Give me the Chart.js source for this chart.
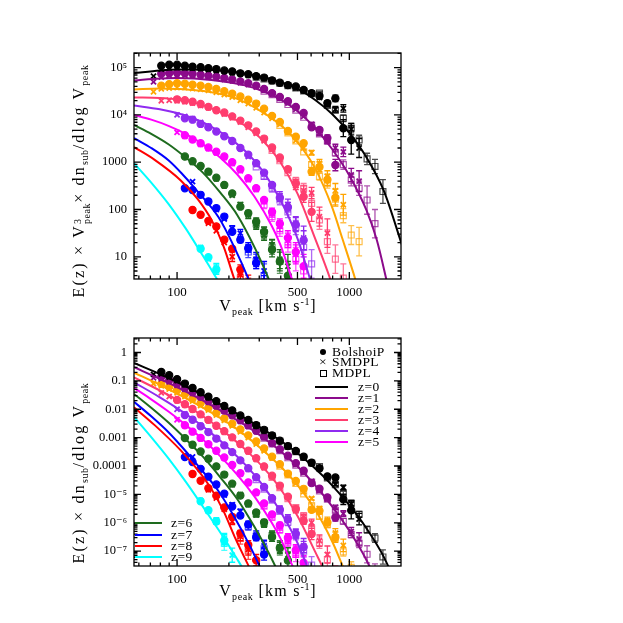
<!DOCTYPE html>
<html>
<head>
<meta charset="utf-8">
<title>Subhalo Vpeak functions</title>
<script src="https://cdn.jsdelivr.net/npm/chart.js@4.4.0/dist/chart.umd.min.js"></script>
<style>
  body { margin: 0; background: #fff; }
  #page { position: relative; width: 623px; height: 623px; overflow: hidden; font-family: "Liberation Serif", "DejaVu Serif", serif; color: #000; }
  canvas { position: absolute; left: 0; }
  .ytitle, .xtitle, .leg { position: absolute; white-space: nowrap; line-height: 1; }
  .ytitle { font-size: 16px; letter-spacing: 2.2px; transform: translate(-50%, -50%) rotate(-90deg); }
  .xtitle { font-size: 16px; letter-spacing: 1.2px; transform: translate(-50%, -50%); }
  .leg { font-size: 13.5px; letter-spacing: 0.4px; transform: translateY(-50%); }
  .sb { font-size: 10px; letter-spacing: 0.6px; vertical-align: -4px; }
  .sp { font-size: 10px; letter-spacing: 0.6px; vertical-align: 6px; }
  .ss { display: inline-block; vertical-align: -6px; font-size: 10px; line-height: 9px; letter-spacing: 0.6px; }
  .sym { position: absolute; }
</style>
</head>
<body>
<div id="page">
  <canvas id="topChart" width="623" height="320" style="top:0"></canvas>
  <canvas id="bottomChart" width="623" height="303" style="top:320px"></canvas>

  <div class="ytitle" style="left:81px;top:181px">E(z) &times; V<span class="ss">3<br>peak</span>&times; dn<span class="sb">sub</span>/dlog V<span class="sb">peak</span></div>
  <div class="xtitle" style="left:268px;top:307px">V<span class="sb">peak</span> [km s<span class="sp">-1</span>]</div>
  <div class="ytitle" style="left:80px;top:473px">E(z) &times; dn<span class="sb">sub</span>/dlog V<span class="sb">peak</span></div>
  <div class="xtitle" style="left:268px;top:592px">V<span class="sb">peak</span> [km s<span class="sp">-1</span>]</div>
  <div id="legend"></div>
</div>

<script>
// Vpeak bins (km/s) shared by the three simulations
const vBins = [73, 81, 90, 100, 111, 123, 137, 152, 169, 188, 209, 233, 259, 288, 320,
  356, 395, 440, 489, 543, 604, 671, 746, 830, 923, 1026, 1140, 1268, 1409, 1567, 1742];

const zLabels = ["z=0", "z=1", "z=2", "z=3", "z=4", "z=5", "z=6", "z=7", "z=8", "z=9"];
const zColors = ["#000000", "#8b0a8b", "#ffa500", "#ff3d6e", "#8f2bf0", "#ff00ff",
  "#1e6b1e", "#0000ff", "#ff0000", "#00ffff"];
const simNames = ["BolshoiP", "SMDPL", "MDPL"];

// fitted curves: [log10 Vpeak, log10 of E(z) Vpeak^3 dn/dlogV]
const fitZ0 = [[1.75, 4.88], [1.9, 4.94], [2.0, 4.96], [2.2, 4.95], [2.4, 4.87], [2.55, 4.75], [2.7, 4.55],
  [2.8, 4.32], [2.9, 4.02], [3.0, 3.62], [3.1, 3.1], [3.2, 2.4], [3.31, 1.2]];
const fitZ1 = [[1.75, 4.73], [1.9, 4.77], [2.0, 4.78], [2.2, 4.74], [2.4, 4.62], [2.5, 4.5], [2.6, 4.33],
  [2.7, 4.08], [2.8, 3.73], [2.9, 3.28], [3.0, 2.72], [3.1, 1.98], [3.16, 1.35], [3.215, 0.52], [3.26, -0.2]];
const fitZ2 = [[1.75, 4.54], [1.9, 4.56], [2.0, 4.55], [2.2, 4.48], [2.35, 4.34], [2.5, 4.05], [2.6, 3.79],
  [2.7, 3.42], [2.8, 2.88], [2.9, 2.05], [2.96, 1.38], [3.035, 0.52], [3.1, -0.3]];
const fitZ3 = [[1.75, 4.37], [1.9, 4.36], [2.0, 4.33], [2.1, 4.26], [2.2, 4.14], [2.3, 3.98], [2.4, 3.76],
  [2.5, 3.45], [2.6, 3.0], [2.7, 2.33], [2.8, 1.4], [2.89, 0.52], [2.96, -0.3]];
const fitZ4 = [[1.75, 4.2], [1.9, 4.12], [2.0, 4.04], [2.1, 3.92], [2.2, 3.75], [2.3, 3.52], [2.4, 3.22],
  [2.5, 2.8], [2.6, 2.2], [2.7, 1.38], [2.77, 0.55], [2.85, -0.4]];
const fitZ5 = [[1.75, 4.0], [1.85, 3.9], [1.95, 3.77], [2.05, 3.6], [2.15, 3.38], [2.25, 3.1], [2.35, 2.74],
  [2.45, 2.27], [2.55, 1.65], [2.6, 1.25], [2.665, 0.55], [2.75, -0.4]];
const fitZ6 = [[1.75, 3.79], [1.85, 3.6], [1.95, 3.38], [2.05, 3.1], [2.15, 2.78], [2.25, 2.36], [2.35, 1.88],
  [2.45, 1.2], [2.53, 0.55], [2.6, -0.1]];
const fitZ7 = [[1.75, 3.51], [1.85, 3.3], [1.95, 3.04], [2.03, 2.75], [2.12, 2.38], [2.24, 1.84], [2.33, 1.22],
  [2.42, 0.48], [2.5, -0.3]];
const fitZ8 = [[1.75, 3.32], [1.87, 3.05], [2.02, 2.62], [2.12, 2.22], [2.2, 1.78], [2.27, 1.22], [2.335, 0.5],
  [2.45, -0.6]];
const fitZ9 = [[1.75, 2.98], [1.85, 2.57], [1.95, 2.12], [2.05, 1.6], [2.15, 1.02], [2.22, 0.6], [2.3, 0.1],
  [2.38, -0.45]];

// simulation points: [bin index, log10 of E(z) Vpeak^3 dn/dlogV, error in dex]
const bolshoiZ0 = [[1, 5.04], [2, 5.06], [3, 5.06], [4, 5.04], [5, 5.02], [6, 5.01], [7, 4.99], [8, 4.97], [9, 4.94],
  [10, 4.92], [11, 4.88], [12, 4.86], [13, 4.82], [14, 4.79], [15, 4.73], [16, 4.68], [17, 4.63], [18, 4.6],
  [19, 4.53], [20, 4.46], [21, 4.4, 0.03], [22, 4.25, 0.05], [23, 4.35, 0.07], [24, 3.72, 0.18], [25, 3.47, 0.3]];
const smdplZ0 = [[0, 4.82], [1, 4.97], [2, 5.0], [3, 5.01], [4, 5.0], [5, 4.99], [6, 4.98], [7, 4.96], [8, 4.94],
  [9, 4.92], [10, 4.89], [11, 4.87], [12, 4.84], [13, 4.81], [14, 4.77], [15, 4.72], [16, 4.67], [17, 4.62],
  [18, 4.57], [19, 4.51], [20, 4.44], [21, 4.37, 0.03], [22, 4.22, 0.04], [23, 4.12, 0.06], [24, 4.14, 0.08],
  [25, 3.7, 0.12], [26, 3.3, 0.2]];
const mdplZ0 = [[13, 4.8], [14, 4.76], [15, 4.72], [16, 4.67], [17, 4.62], [18, 4.57], [19, 4.51], [20, 4.45],
  [21, 4.46, 0.03], [22, 4.2, 0.04], [23, 4.1, 0.05], [24, 3.93, 0.07], [25, 3.72, 0.1], [26, 3.47, 0.1],
  [27, 3.07, 0.12], [28, 2.91, 0.15], [29, 2.38, 0.25]];

const bolshoiZ1 = [[1, 4.87], [2, 4.88], [3, 4.89], [4, 4.88], [5, 4.87], [6, 4.85], [7, 4.83], [8, 4.81], [9, 4.78],
  [10, 4.75], [11, 4.71], [12, 4.67], [13, 4.62], [14, 4.55], [15, 4.46], [16, 4.38], [17, 4.29], [18, 4.17],
  [19, 4.04], [20, 3.74, 0.04], [21, 3.68, 0.05], [22, 3.51, 0.07], [23, 2.94, 0.12]];
const smdplZ1 = [[0, 4.7], [1, 4.8], [2, 4.83], [3, 4.84], [4, 4.84], [5, 4.83], [6, 4.82], [7, 4.8], [8, 4.78],
  [9, 4.75], [10, 4.72], [11, 4.68], [12, 4.64], [13, 4.59], [14, 4.52], [15, 4.44], [16, 4.35], [17, 4.25],
  [18, 4.12], [19, 3.97], [20, 3.8, 0.04], [21, 3.62, 0.05], [22, 3.45, 0.06], [23, 3.3, 0.08], [24, 3.22, 0.1],
  [25, 2.73, 0.14], [26, 2.6, 0.22]];
const mdplZ1 = [[14, 4.5], [15, 4.43], [16, 4.33], [17, 4.22], [18, 4.1], [19, 3.95], [20, 3.78], [21, 3.6, 0.04],
  [22, 3.45, 0.05], [23, 3.2, 0.07], [24, 2.95, 0.1], [25, 2.62, 0.12], [26, 2.45, 0.15], [27, 2.2, 0.3],
  [28, 1.7, 0.3]];

const bolshoiZ2 = [[1, 4.62], [2, 4.65], [3, 4.67], [4, 4.66], [5, 4.64], [6, 4.62], [7, 4.59], [8, 4.55], [9, 4.5],
  [10, 4.45], [11, 4.39], [12, 4.32], [13, 4.24], [14, 4.13], [15, 3.98], [16, 3.85], [17, 3.66], [18, 3.54],
  [19, 3.4], [20, 2.8, 0.08], [21, 2.9, 0.1], [22, 2.63, 0.12], [23, 2.25, 0.18]];
const smdplZ2 = [[0, 4.49], [1, 4.55], [2, 4.57], [3, 4.58], [4, 4.58], [5, 4.56], [6, 4.54], [7, 4.52], [8, 4.48],
  [9, 4.43], [10, 4.38], [11, 4.31], [12, 4.24], [13, 4.15], [14, 4.05], [15, 3.93], [16, 3.8], [17, 3.63],
  [18, 3.46], [19, 3.3], [20, 3.2, 0.05], [21, 2.98, 0.08], [22, 2.7, 0.12], [23, 2.4, 0.15], [24, 2.1, 0.22]];
const mdplZ2 = [[16, 3.78], [17, 3.62], [18, 3.45], [19, 3.22], [20, 2.95, 0.06], [21, 2.7, 0.08], [22, 2.55, 0.1],
  [23, 2.22, 0.12], [24, 1.87, 0.15], [25, 1.46, 0.2], [26, 1.32, 0.3]];

const bolshoiZ3 = [[3, 4.33], [4, 4.31], [5, 4.28], [6, 4.23], [7, 4.17], [8, 4.1], [9, 4.05], [10, 3.97],
  [11, 3.88], [12, 3.78], [13, 3.65], [14, 3.5], [15, 3.31], [16, 3.1], [17, 2.85], [18, 2.55, 0.08],
  [19, 2.27, 0.12], [20, 1.95, 0.2]];
const smdplZ3 = [[1, 4.3], [2, 4.31], [3, 4.3], [4, 4.28], [5, 4.25], [6, 4.2], [7, 4.15], [8, 4.09], [9, 4.02],
  [10, 3.94], [11, 3.85], [12, 3.74], [13, 3.61], [14, 3.45], [15, 3.27], [16, 3.05], [17, 2.82], [18, 2.5, 0.08],
  [19, 2.4, 0.1], [20, 2.35, 0.12], [21, 1.85, 0.2], [22, 1.5, 0.3]];
const mdplZ3 = [[15, 3.25], [16, 3.03], [17, 2.78], [18, 2.6, 0.08], [19, 2.45, 0.1], [20, 2.13, 0.15],
  [21, 1.78, 0.2], [22, 1.32, 0.25], [23, 0.95, 0.3], [24, 0.55, 0.3]];

const bolshoiZ4 = [[4, 3.93], [5, 3.9], [6, 3.81], [7, 3.74], [8, 3.65], [9, 3.55], [10, 3.45], [11, 3.3],
  [12, 3.16], [13, 2.98], [14, 2.78], [15, 2.52], [16, 2.25, 0.08], [17, 2.05, 0.1], [18, 1.68, 0.15],
  [19, 1.35, 0.2]];
const smdplZ4 = [[3, 4.0], [4, 3.97], [5, 3.92], [6, 3.84], [7, 3.76], [8, 3.66], [9, 3.56], [10, 3.44], [11, 3.3],
  [12, 3.12], [13, 2.95], [14, 2.75], [15, 2.5, 0.06], [16, 2.3, 0.08], [17, 2.1, 0.12], [18, 1.7, 0.15],
  [19, 1.4, 0.25]];
const mdplZ4 = [[13, 2.9], [14, 2.7, 0.06], [15, 2.45, 0.08], [16, 2.2, 0.1], [17, 1.95, 0.12], [18, 1.62, 0.15],
  [19, 1.2, 0.2], [20, 0.85, 0.3]];

const bolshoiZ5 = [[4, 3.57], [5, 3.48], [6, 3.4], [7, 3.31], [8, 3.22], [9, 3.12], [10, 3.0], [11, 2.85],
  [12, 2.66], [13, 2.45], [14, 2.2], [15, 1.95, 0.08], [16, 1.7, 0.1], [17, 1.4, 0.15], [18, 1.1, 0.2],
  [19, 0.8, 0.25]];
const smdplZ5 = [[3, 3.63], [4, 3.55], [5, 3.47], [6, 3.38], [7, 3.29], [8, 3.2], [9, 3.1], [10, 2.97], [11, 2.82],
  [12, 2.63], [13, 2.42], [14, 2.18, 0.06], [15, 1.92, 0.08], [16, 1.65, 0.12], [17, 1.35, 0.15], [18, 1.05, 0.2]];
const mdplZ5 = [[14, 2.1, 0.08], [15, 1.85, 0.1], [16, 1.55, 0.12], [17, 1.25, 0.15], [18, 0.95, 0.25],
  [19, 0.7, 0.3]];

const bolshoiZ6 = [[4, 3.12], [5, 3.02], [6, 2.92], [7, 2.8], [8, 2.67], [9, 2.52], [10, 2.34], [11, 2.06],
  [12, 1.92, 0.06], [13, 1.74, 0.08], [14, 1.53, 0.1], [15, 1.15, 0.15], [16, 0.9, 0.2], [17, 0.6, 0.3]];
const smdplZ6 = [[5, 3.0], [6, 2.9], [7, 2.78], [8, 2.65], [9, 2.5], [10, 2.3], [11, 2.1, 0.05], [12, 1.88, 0.07],
  [13, 1.66, 0.08], [14, 1.45, 0.1], [15, 1.25, 0.12], [16, 0.95, 0.2], [17, 0.8, 0.25]];
const mdplZ6 = [[13, 1.7, 0.1], [14, 1.5, 0.12], [15, 1.2, 0.15], [16, 0.9, 0.25]];

const bolshoiZ7 = [[4, 2.45], [5, 2.41], [6, 2.31], [7, 2.17], [8, 2.03], [9, 1.85], [10, 1.53], [11, 1.36, 0.06],
  [12, 1.18, 0.08], [13, 0.87, 0.12], [14, 0.4, 0.2]];
const smdplZ7 = [[5, 2.59], [6, 2.32], [7, 2.18], [8, 2.0], [9, 1.8], [10, 1.6, 0.06], [11, 1.5, 0.08],
  [12, 1.2, 0.1], [13, 0.94, 0.15], [14, 0.7, 0.2]];
const mdplZ7 = [[12, 1.1, 0.12], [13, 0.9, 0.15], [14, 0.6, 0.25]];

const bolshoiZ8 = [[5, 1.99], [6, 1.89], [7, 1.76], [8, 1.64], [9, 1.36], [10, 1.17], [11, 0.73, 0.1],
  [12, 0.46, 0.15], [13, 0.06, 0.2]];
const smdplZ8 = [[7, 1.71], [8, 1.55], [9, 1.3], [10, 1.0, 0.1], [11, 0.62, 0.15], [12, 0.3, 0.2]];
const mdplZ8 = [[11, 0.55, 0.2], [12, 0.25, 0.3]];

const bolshoiZ9 = [[6, 1.17], [7, 0.99], [8, 0.73, 0.1], [9, 0.2, 0.2]];
const smdplZ9 = [[6, 1.2], [7, 0.95], [8, 0.76, 0.1], [9, 0.25, 0.2], [10, -0.18, 0.25]];
const mdplZ9 = [[9, 0.1, 0.25]];

// axis ticks
const xLabelTicks = [100, 500, 1000];
const xMinorTicks = [60, 70, 80, 90, 200, 300, 400, 600, 700, 800, 900];
const topYLabels = [10, 100, 1000, 1e4, 1e5];
const topYText = ["10", "100", "1000", "10\u2074", "10\u2075"];
const bottomYLabels = [1, 0.1, 0.01, 0.001, 1e-4, 1e-5, 1e-6, 1e-7];
const bottomYText = ["1", "0.1", "0.01", "0.001", "0.0001", "10\u207b\u2075", "10\u207b\u2076", "10\u207b\u2077"];

const fits = [fitZ0, fitZ1, fitZ2, fitZ3, fitZ4, fitZ5, fitZ6, fitZ7, fitZ8, fitZ9];
const bolshoi = [bolshoiZ0, bolshoiZ1, bolshoiZ2, bolshoiZ3, bolshoiZ4, bolshoiZ5, bolshoiZ6, bolshoiZ7, bolshoiZ8, bolshoiZ9];
const smdpl = [smdplZ0, smdplZ1, smdplZ2, smdplZ3, smdplZ4, smdplZ5, smdplZ6, smdplZ7, smdplZ8, smdplZ9];
const mdpl = [mdplZ0, mdplZ1, mdplZ2, mdplZ3, mdplZ4, mdplZ5, mdplZ6, mdplZ7, mdplZ8, mdplZ9];

Chart.defaults.font.family = '"Liberation Serif", "DejaVu Serif", serif';
Chart.defaults.font.size = 12.5;
Chart.defaults.color = "#000";

// bottom panel drops the Vpeak^3 weighting of the top panel
function toPoint(logV, logY, bottom) {
  return { x: Math.pow(10, logV), y: Math.pow(10, bottom ? logY - 3 * logV : logY) };
}

function withAlpha(hex, a) {
  const n = parseInt(hex.slice(1), 16);
  return `rgba(${n >> 16}, ${(n >> 8) & 255}, ${n & 255}, ${a})`;
}

function simSet(points, color, style, bottom) {
  const filled = style === "circle";
  return {
    data: points.map(p => toPoint(Math.log10(vBins[p[0]]), p[1], bottom)),
    errDex: points.map(p => p[2] || 0),
    pointStyle: style,
    pointRadius: style === "rect" ? 4.2 : 3.6,
    pointBorderWidth: style === "crossRot" ? 1.8 : 1.2,
    pointBorderColor: color,
    pointBackgroundColor: filled ? color : "rgba(0,0,0,0)",
    borderColor: color,
    showLine: false,
    order: 1
  };
}

function buildDatasets(bottom) {
  const sets = [];
  zColors.forEach((color, z) => {
    sets.push(simSet(mdpl[z], withAlpha(color, 0.7), "rect", bottom));
    sets.push(simSet(smdpl[z], color, "crossRot", bottom));
    sets.push(simSet(bolshoi[z], color, "circle", bottom));
    sets.push({
      label: zLabels[z],
      data: fits[z].map(p => toPoint(p[0], p[1], bottom)),
      borderColor: color,
      borderWidth: 2,
      pointRadius: 0,
      showLine: true,
      cubicInterpolationMode: "monotone",
      order: 0
    });
  });
  return sets;
}

const errorBars = {
  id: "errorBars",
  beforeDatasetsDraw(chart) {
    const { ctx, chartArea: a, scales: { x, y } } = chart;
    ctx.save();
    ctx.beginPath();
    ctx.rect(a.left, a.top, a.right - a.left, a.bottom - a.top);
    ctx.clip();
    chart.data.datasets.forEach(ds => {
      if (!ds.errDex) return;
      ctx.strokeStyle = ds.borderColor;
      ctx.lineWidth = 1.3;
      ds.data.forEach((p, j) => {
        const e = ds.errDex[j];
        if (!e) return;
        const px = x.getPixelForValue(p.x);
        const hi = y.getPixelForValue(p.y * Math.pow(10, e));
        const lo = y.getPixelForValue(p.y / Math.pow(10, e));
        ctx.beginPath();
        ctx.moveTo(px, hi); ctx.lineTo(px, lo);
        ctx.moveTo(px - 3, hi); ctx.lineTo(px + 3, hi);
        ctx.moveTo(px - 3, lo); ctx.lineTo(px + 3, lo);
        ctx.stroke();
      });
    });
    ctx.restore();
  }
};

const frameTicks = {
  id: "frameTicks",
  afterDraw(chart, args, opts) {
    const { ctx, chartArea: a, scales: { x, y } } = chart;
    ctx.save();
    ctx.strokeStyle = "#000";
    ctx.lineWidth = 1.3;
    ctx.strokeRect(a.left, a.top, a.right - a.left, a.bottom - a.top);
    ctx.beginPath();
    const xTick = (v, len) => {
      const p = x.getPixelForValue(v);
      if (p <= a.left || p >= a.right) return;
      ctx.moveTo(p, a.bottom); ctx.lineTo(p, a.bottom - len);
      ctx.moveTo(p, a.top); ctx.lineTo(p, a.top + len);
    };
    const yTick = (v, len) => {
      const p = y.getPixelForValue(v);
      if (p <= a.top || p >= a.bottom) return;
      ctx.moveTo(a.left, p); ctx.lineTo(a.left + len, p);
      ctx.moveTo(a.right, p); ctx.lineTo(a.right - len, p);
    };
    xLabelTicks.forEach(v => xTick(v, 7));
    xMinorTicks.forEach(v => xTick(v, 3.5));
    for (let d = opts.minDecade; d <= opts.maxDecade; d++) {
      const base = Math.pow(10, d);
      yTick(base, 7);
      for (let m = 2; m <= 9; m++) yTick(base * m, 3.5);
    }
    ctx.stroke();
    ctx.restore();
  }
};

function makePanel(id, bottom, yMin, yMax, yTicks, yText, pad) {
  return new Chart(document.getElementById(id), {
    type: "scatter",
    data: { datasets: buildDatasets(bottom) },
    options: {
      responsive: false,
      animation: false,
      devicePixelRatio: 1,
      layout: { padding: pad },
      plugins: {
        legend: { display: false },
        tooltip: { enabled: false },
        frameTicks: { minDecade: bottom ? -8 : 0, maxDecade: bottom ? 0 : 5 }
      },
      scales: {
        x: {
          type: "logarithmic",
          min: Math.pow(10, 1.75),
          max: Math.pow(10, 3.3),
          grid: { display: false, drawTicks: false },
          border: { display: false },
          afterBuildTicks: s => { s.ticks = xLabelTicks.map(v => ({ value: v })); },
          afterFit: s => { s.height = 20; },
          ticks: { autoSkip: false, maxRotation: 0, padding: 6, font: { size: 13 }, callback: v => String(v) }
        },
        y: {
          type: "logarithmic",
          min: yMin,
          max: yMax,
          grid: { display: false, drawTicks: false },
          border: { display: false },
          afterBuildTicks: s => { s.ticks = yTicks.map(v => ({ value: v })); },
          afterFit: s => { s.width = 60; },
          ticks: {
            autoSkip: false,
            padding: 7,
            callback: v => {
              const i = yTicks.findIndex(t => Math.abs(Math.log10(t) - Math.log10(v)) < 1e-6);
              return i >= 0 ? yText[i] : "";
            }
          }
        }
      }
    },
    plugins: [errorBars, frameTicks]
  });
}

makePanel("topChart", false, Math.pow(10, 0.53), Math.pow(10, 5.31), topYLabels, topYText,
  { left: 74, right: 222, top: 53, bottom: 21 });
makePanel("bottomChart", true, Math.pow(10, -7.5), Math.pow(10, 0.51), bottomYLabels, bottomYText,
  { left: 74, right: 222, top: 18, bottom: 37 });

// legend of the lower panel
const legend = document.getElementById("legend");
function addText(text, left, top) {
  const d = document.createElement("div");
  d.className = "leg";
  d.style.left = left + "px";
  d.style.top = top + "px";
  d.textContent = text;
  legend.appendChild(d);
}
function addBox(left, top, w, h, css) {
  const d = document.createElement("div");
  d.className = "sym";
  d.style.cssText += `left:${left}px;top:${top}px;width:${w}px;height:${h}px;${css}`;
  legend.appendChild(d);
}
const simRows = [352, 362, 373];
addBox(320, simRows[0] - 3, 6, 6, "background:#000;border-radius:50%;");
addText("\u00d7", 319, simRows[1]);
addBox(320, simRows[2] - 3, 5, 5, "border:1px solid #000;");
simNames.forEach((name, i) => addText(name, 332, simRows[i]));
zLabels.forEach((label, z) => {
  const upper = z < 6;
  const top = upper ? 386.7 + 11.1 * z : 523.3 + 11.2 * (z - 6);
  const x0 = upper ? 315 : 135;
  addBox(x0, top - 1, upper ? 33 : 27, 2, `background:${zColors[z]};`);
  addText(label, upper ? 358 : 171, top);
});
</script>
</body>
</html>
